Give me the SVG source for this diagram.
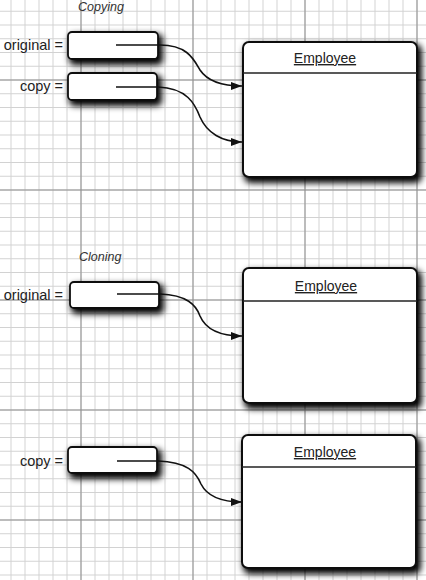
<svg xmlns="http://www.w3.org/2000/svg" width="426" height="580" viewBox="0 0 426 580">
<style>
.lbl{font-family:"Liberation Sans",Arial,sans-serif;font-size:14.5px;fill:#222;text-anchor:end}
.ttl{font-family:"Liberation Sans",Arial,sans-serif;font-size:12.5px;font-style:italic;fill:#333}
.cls{font-family:"Liberation Sans",Arial,sans-serif;font-size:14px;fill:#222;text-anchor:middle;text-decoration:underline}
.var{fill:#fff;stroke:#111;stroke-width:1.8}
.obj{fill:#fff;stroke:#111;stroke-width:2}
.div{stroke:#222;stroke-width:1.5}
.con{fill:none;stroke:#111;stroke-width:1.6}
</style>
<defs>
<pattern id="minor" patternUnits="userSpaceOnUse" x="10.5" y="10.75" width="14" height="13.75">
<path d="M0.5,0 V13.75 M0,0.5 H14" stroke="#d2d2d2" stroke-width="1" fill="none"/>
</pattern>
<pattern id="major" patternUnits="userSpaceOnUse" x="80.5" y="79.5" width="112" height="110">
<path d="M0.5,0 V110 M0,0.5 H112" stroke="#8e8e8e" stroke-width="1" fill="none"/>
</pattern>
<filter id="sh" x="-20%" y="-40%" width="150%" height="200%">
<feMorphology in="SourceAlpha" operator="dilate" radius="1"/>
<feGaussianBlur stdDeviation="3.2"/>
<feOffset dx="3" dy="4" result="b"/>
<feComponentTransfer><feFuncA type="linear" slope="1"/></feComponentTransfer>
<feMerge><feMergeNode/><feMergeNode in="SourceGraphic"/></feMerge>
</filter>
<marker id="ah" markerUnits="userSpaceOnUse" markerWidth="12" markerHeight="9" refX="11" refY="4" orient="auto">
<path d="M0,0 L11,4 L0,8 z" fill="#111"/>
</marker>
</defs>
<rect width="426" height="580" fill="#fff"/>
<rect width="426" height="580" fill="url(#minor)"/>
<rect width="426" height="580" fill="url(#major)"/>

<text class="ttl" x="78" y="11">Copying</text>
<text class="ttl" x="79" y="261">Cloning</text>

<g id="copy-original">
<text class="lbl" x="63" y="50">original =</text>
<rect class="var" x="68" y="32" width="90" height="27" rx="4" filter="url(#sh)"/>
</g>
<g id="copy-copy">
<text class="lbl" x="63" y="91">copy =</text>
<rect class="var" x="68" y="73" width="89" height="27" rx="4" filter="url(#sh)"/>
</g>
<g id="employee-1">
<rect class="obj" x="243" y="42" width="174" height="135" rx="6" filter="url(#sh)"/>
<line class="div" x1="243" y1="73" x2="417" y2="73"/>
<text class="cls" x="325" y="63">Employee</text>
</g>

<g id="clone-original">
<text class="lbl" x="63" y="300">original =</text>
<rect class="var" x="70" y="282" width="89" height="26" rx="4" filter="url(#sh)"/>
</g>
<g id="employee-2">
<rect class="obj" x="243" y="268" width="174" height="135" rx="6" filter="url(#sh)"/>
<line class="div" x1="243" y1="301" x2="417" y2="301"/>
<text class="cls" x="326" y="291">Employee</text>
</g>

<g id="clone-copy">
<text class="lbl" x="63" y="466">copy =</text>
<rect class="var" x="68" y="447" width="89" height="26" rx="4" filter="url(#sh)"/>
</g>
<g id="employee-3">
<rect class="obj" x="242" y="435" width="174" height="133" rx="6" filter="url(#sh)"/>
<line class="div" x1="242" y1="467" x2="416" y2="467"/>
<text class="cls" x="325" y="457">Employee</text>
</g>

<g id="connectors">
<path class="con" marker-end="url(#ah)" d="M116,45 L160,45 C188,45 194,60 200,70 C208,82 222,86 242,86"/>
<path class="con" marker-end="url(#ah)" d="M116,87 L158,87 C187,88 195,104 200,117 C207,133 222,142 242,142"/>
<path class="con" marker-end="url(#ah)" d="M117,294 L160,294 C187,295 196,305 200,316 C206,330 222,336 242,336"/>
<path class="con" marker-end="url(#ah)" d="M117,461 L158,461 C187,462 196,472 201,484 C207,496 222,502 242,502"/>
</g>
</svg>
